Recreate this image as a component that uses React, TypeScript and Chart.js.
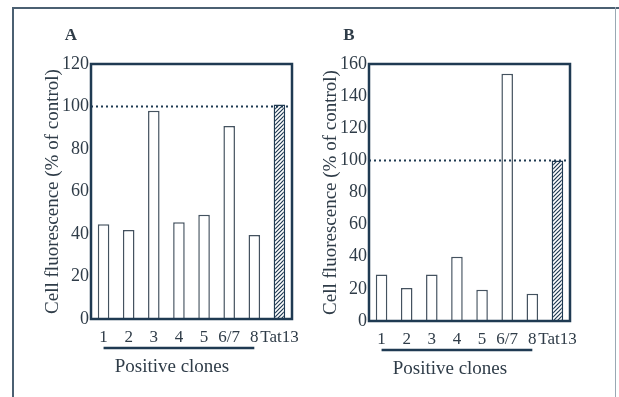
import React, { useEffect, useRef } from "react";
import { Chart, registerables } from "chart.js";

Chart.register(...registerables);

// ---- data ----
const categories = ["1", "2", "3", "4", "5", "6/7", "8", "Tat13"];
const valuesA = [44.6, 41.9, 98, 45.5, 49.1, 90.8, 39.5, 101];
const valuesB = [29, 20.5, 29, 40, 19.5, 154, 17, 100];
const yMaxA = 120;
const yMaxB = 160;
const yStep = 20;
const controlLevel = 100;
const yTitle = "Cell fluorescence (% of control)";
const groupTitle = "Positive clones";
const groupFirstIndex = 0;
const groupLastIndex = 6;
const hatchedIndex = 7;

const FONT = "'Liberation Serif', 'Times New Roman', serif";
const INK = "#1f3a52";
const TEXT = "#2f3c48";
const BAR_EDGE = "#44525f";

function makeHatch(): CanvasPattern | string {
  const c = document.createElement("canvas");
  c.width = 4;
  c.height = 4;
  const g = c.getContext("2d");
  if (!g) return INK;
  g.fillStyle = "#ffffff";
  g.fillRect(0, 0, 4, 4);
  g.strokeStyle = INK;
  g.lineWidth = 1.2;
  g.beginPath();
  for (const k of [0, 4, 8]) {
    g.moveTo(k + 1, -1);
    g.lineTo(k - 5, 5);
  }
  g.stroke();
  return g.createPattern(c, "repeat") || INK;
}

type PanelProps = {
  letter: string;
  values: number[];
  yMax: number;
  left: number;
  width: number;
  axisWidth: number;
  padRight: number;
  xAxisHeight: number;
};

function Panel({ letter, values, yMax, left, width, axisWidth, padRight, xAxisHeight }: PanelProps) {
  const ref = useRef<HTMLCanvasElement | null>(null);

  useEffect(() => {
    const canvas = ref.current;
    if (!canvas) return;
    const hatch = makeHatch();
    const annotate = {
      id: "annotate" + letter,
      afterDatasetsDraw(chart: any) {
        const { ctx, chartArea: a, scales } = chart;
        const x = scales.x;
        const y = scales.y;
        ctx.save();
        // control dotted line
        const yy = y.getPixelForValue(controlLevel);
        ctx.strokeStyle = INK;
        ctx.setLineDash([2, 3]);
        ctx.lineWidth = 2;
        ctx.beginPath();
        ctx.moveTo(a.left, yy);
        ctx.lineTo(a.right, yy);
        ctx.stroke();
        ctx.setLineDash([]);
        // frame
        ctx.lineWidth = 2.5;
        ctx.strokeRect(a.left, a.top, a.right - a.left, a.bottom - a.top);
        // group underline
        const x0 = x.getPixelForValue(groupFirstIndex);
        const x1 = x.getPixelForValue(groupLastIndex);
        ctx.lineWidth = 2.5;
        ctx.beginPath();
        ctx.moveTo(x0, a.bottom + 29);
        ctx.lineTo(x1, a.bottom + 29);
        ctx.stroke();
        // texts
        ctx.fillStyle = TEXT;
        ctx.textAlign = "center";
        ctx.textBaseline = "middle";
        ctx.font = `19px ${FONT}`;
        ctx.fillText(groupTitle, (x0 + x1) / 2 - 7, a.bottom + 48);
        ctx.save();
        ctx.translate(a.left - 38, (a.top + a.bottom) / 2);
        ctx.rotate(-Math.PI / 2);
        ctx.font = `19px ${FONT}`;
        ctx.fillText(yTitle, 0, 0);
        ctx.restore();
        ctx.font = `bold 17px ${FONT}`;
        ctx.fillText(letter, a.left - 20, 36);
        ctx.restore();
      },
    };

    const bg = values.map((_, i) => (i === hatchedIndex ? hatch : "#ffffff"));
    const bc = values.map((_, i) => (i === hatchedIndex ? INK : BAR_EDGE));

    const chart = new Chart(canvas, {
      type: "bar",
      data: {
        labels: categories,
        datasets: [
          {
            data: values,
            backgroundColor: bg as any,
            borderColor: bc,
            borderWidth: 1.5,
            barPercentage: 0.46,
            categoryPercentage: 1,
          },
        ],
      },
      options: {
        animation: false,
        responsive: false,
        devicePixelRatio: 1,
        layout: { padding: { top: 64, right: padRight, left: 0, bottom: 0 } },
        plugins: { legend: { display: false }, tooltip: { enabled: false }, title: { display: false } },
        scales: {
          x: {
            grid: { display: false, drawTicks: false },
            border: { display: false },
            ticks: {
              color: TEXT,
              font: { family: FONT, size: 17 },
              padding: 8,
              maxRotation: 0,
              autoSkip: false,
            },
            afterFit(scale: any) {
              scale.height = xAxisHeight;
            },
          },
          y: {
            min: 0,
            max: yMax,
            grid: { display: false, drawTicks: false },
            border: { display: false },
            ticks: {
              stepSize: yStep,
              color: TEXT,
              font: { family: FONT, size: 18 },
              padding: 2,
            },
            afterFit(scale: any) {
              scale.width = axisWidth;
            },
          },
        },
      },
      plugins: [annotate],
    });
    return () => chart.destroy();
  }, [letter, values, yMax, axisWidth, padRight, xAxisHeight]);

  return (
    <canvas
      ref={ref}
      width={width}
      height={397}
      style={{ position: "absolute", left, top: 0, width, height: 397 }}
    />
  );
}

export default function App() {
  return (
    <div
      style={{
        position: "fixed",
        left: 0,
        top: 0,
        width: 619,
        height: 397,
        background: "#ffffff",
        overflow: "hidden",
      }}
    >
      <div style={{ position: "absolute", left: 12, top: 7, width: 1.5, height: 390, background: "#4b6072" }} />
      <div style={{ position: "absolute", left: 12, top: 7, width: 607, height: 1.5, background: "#4b6072" }} />
      <div style={{ position: "absolute", left: 615, top: 7, width: 1, height: 390, background: "#9aa8b3" }} />
      <Panel letter="A" values={valuesA} yMax={yMaxA} left={0} width={310} axisWidth={91} padRight={18} xAxisHeight={78} />
      <Panel letter="B" values={valuesB} yMax={yMaxB} left={310} width={305} axisWidth={59} padRight={45} xAxisHeight={76} />
    </div>
  );
}
